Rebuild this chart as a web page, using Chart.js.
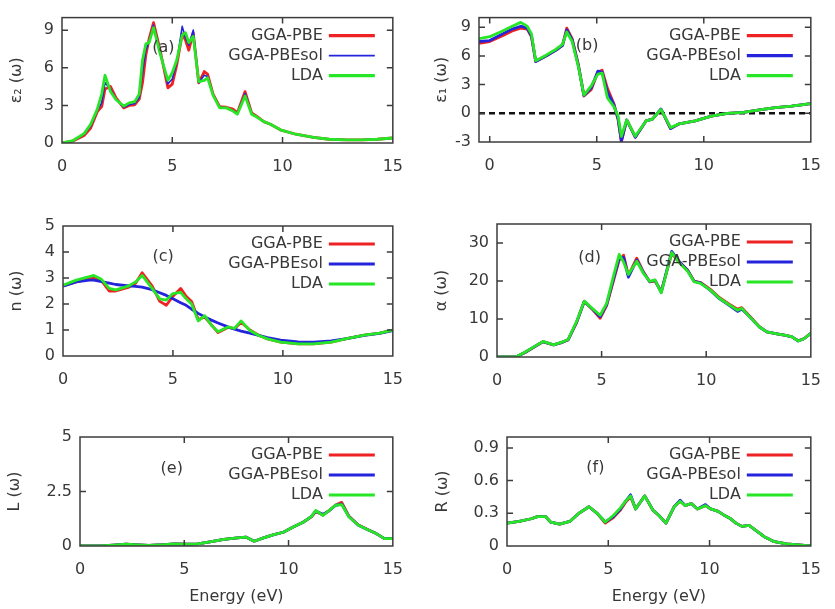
<!DOCTYPE html>
<html>
<head>
<meta charset="utf-8">
<title>Optical properties</title>
<script src="https://cdn.jsdelivr.net/npm/chart.js@4.4.1/dist/chart.umd.min.js"></script>
<style>
  html, body { margin: 0; padding: 0; background: #fff; }
  #wrap { position: relative; width: 835px; height: 609px; overflow: hidden; }
  #wrap canvas { position: absolute; }
</style>
</head>
<body>
<div id="wrap">
  <canvas id="pa" width="417" height="200" style="left:0;top:0"></canvas>
  <canvas id="pb" width="418" height="200" style="left:417px;top:0"></canvas>
  <canvas id="pc" width="417" height="205" style="left:0;top:200px"></canvas>
  <canvas id="pd" width="418" height="205" style="left:417px;top:200px"></canvas>
  <canvas id="pe" width="417" height="204" style="left:0;top:405px"></canvas>
  <canvas id="pf" width="418" height="204" style="left:417px;top:405px"></canvas>
</div>
<script>
// Functionals compared in every panel
const seriesNames = ['GGA-PBE', 'GGA-PBEsol', 'LDA'];

// (a) imaginary part of the dielectric function
const aE      = [0, 0.5, 1.0, 1.3, 1.6, 1.8, 1.95, 2.2, 2.45, 2.8, 3.05, 3.3, 3.5, 3.65, 3.8, 3.95, 4.15, 4.45, 4.8, 5.0, 5.2, 5.45, 5.6, 5.75, 5.95, 6.2, 6.45, 6.6, 6.85, 7.15, 7.45, 7.75, 7.95, 8.3, 8.6, 8.85, 9.15, 9.45, 9.9, 10.6, 11.4, 12.1, 12.9, 13.6, 14.3, 15];
const aPBE    = [0, 0.15, 0.6, 1.2, 2.5, 2.9, 4.3, 4.5, 3.6, 2.8, 3.0, 3.05, 3.5, 4.8, 7.0, 8.3, 9.6, 7.4, 4.4, 4.7, 6.2, 8.7, 8.2, 7.4, 8.8, 4.8, 5.7, 5.5, 3.9, 2.9, 2.85, 2.7, 2.4, 4.1, 2.4, 2.1, 1.7, 1.5, 1.05, 0.7, 0.45, 0.3, 0.25, 0.25, 0.3, 0.4];
const aPBEsol = [0, 0.18, 0.7, 1.35, 2.6, 3.2, 4.8, 4.3, 3.5, 2.85, 3.05, 3.15, 3.6, 5.6, 7.4, 8.1, 9.4, 7.3, 4.7, 5.1, 6.4, 9.3, 8.4, 7.8, 9.0, 4.8, 5.4, 5.3, 3.85, 2.85, 2.8, 2.6, 2.35, 3.95, 2.35, 2.05, 1.7, 1.5, 1.05, 0.7, 0.45, 0.3, 0.25, 0.25, 0.3, 0.4];
const aLDA    = [0, 0.2, 0.75, 1.5, 2.7, 3.9, 5.4, 4.1, 3.45, 2.95, 3.2, 3.3, 3.9, 6.6, 7.9, 8.0, 9.2, 7.1, 5.0, 5.6, 6.6, 8.6, 8.8, 8.0, 8.5, 4.9, 5.0, 5.2, 3.8, 2.8, 2.8, 2.55, 2.3, 3.75, 2.3, 2.05, 1.7, 1.5, 1.05, 0.7, 0.45, 0.3, 0.25, 0.25, 0.3, 0.4];

// (b) real part of the dielectric function
const bE      = [-0.5, 0, 0.6, 1.05, 1.45, 1.75, 1.95, 2.15, 2.65, 3.1, 3.4, 3.6, 3.85, 4.15, 4.4, 4.75, 5.05, 5.25, 5.5, 5.8, 6.0, 6.15, 6.4, 6.8, 7.3, 7.6, 8.0, 8.45, 8.85, 9.6, 10.35, 11.1, 11.85, 12.6, 13.35, 14.1, 15];
const bPBE    = [7.3, 7.5, 8.1, 8.6, 8.9, 8.8, 8.0, 5.4, 6.0, 6.6, 7.1, 8.9, 7.8, 5.0, 1.8, 2.5, 4.3, 4.5, 2.6, 1.0, -0.7, -3.0, -0.7, -2.5, -0.8, -0.6, 0.4, -1.6, -1.1, -0.8, -0.3, 0.0, 0.1, 0.35, 0.6, 0.75, 1.0];
const bPBEsol = [7.5, 7.6, 8.3, 8.8, 9.1, 8.9, 8.1, 5.4, 6.0, 6.6, 7.1, 8.7, 7.7, 4.9, 1.85, 2.7, 4.4, 4.3, 2.2, 0.9, -0.6, -2.9, -0.7, -2.5, -0.8, -0.6, 0.45, -1.6, -1.1, -0.8, -0.3, 0.0, 0.1, 0.35, 0.6, 0.75, 1.0];
const bLDA    = [7.8, 8.0, 8.6, 9.1, 9.5, 9.1, 8.3, 5.5, 6.1, 6.7, 7.2, 8.5, 7.5, 4.8, 1.9, 2.9, 4.1, 4.2, 1.6, 0.7, -0.3, -2.4, -0.7, -2.4, -0.8, -0.6, 0.4, -1.5, -1.1, -0.8, -0.3, 0.0, 0.1, 0.35, 0.6, 0.75, 1.0];
const bZeroE  = [-0.5, 15];
const bZero   = [0, 0];

// (c) refractive index
const cE      = [0, 0.6, 1.2, 1.4, 1.75, 2.1, 2.4, 3.0, 3.3, 3.6, 4.05, 4.4, 4.7, 5.0, 5.35, 5.6, 5.85, 6.15, 6.45, 6.75, 7.05, 7.5, 7.8, 8.1, 8.5, 8.9, 9.3, 9.9, 10.7, 11.4, 12.2, 12.9, 13.7, 14.4, 15];
const cPBE    = [2.7, 2.85, 2.98, 3.0, 2.9, 2.5, 2.5, 2.65, 2.8, 3.2, 2.7, 2.1, 1.95, 2.3, 2.6, 2.3, 2.1, 1.4, 1.5, 1.2, 0.9, 1.1, 1.05, 1.3, 1.0, 0.8, 0.66, 0.53, 0.47, 0.47, 0.53, 0.67, 0.8, 0.88, 1.0];
const cPBEsol = [2.69, 2.85, 2.92, 2.92, 2.86, 2.8, 2.75, 2.7, 2.68, 2.65, 2.55, 2.43, 2.33, 2.2, 2.05, 1.95, 1.8, 1.64, 1.5, 1.38, 1.27, 1.12, 1.03, 0.96, 0.88, 0.79, 0.71, 0.61, 0.54, 0.53, 0.58, 0.67, 0.79, 0.87, 0.98];
const cLDA    = [2.72, 2.92, 3.05, 3.1, 2.95, 2.6, 2.54, 2.7, 2.85, 3.1, 2.6, 2.2, 2.15, 2.4, 2.45, 2.2, 2.0, 1.35, 1.55, 1.18, 0.93, 1.12, 1.06, 1.35, 0.98, 0.79, 0.66, 0.53, 0.47, 0.47, 0.53, 0.67, 0.8, 0.88, 1.0];

// (d) absorption coefficient
const dE      = [0, 0.9, 1.35, 1.8, 2.2, 2.7, 3.1, 3.4, 3.8, 4.17, 4.55, 4.93, 5.24, 5.54, 5.84, 6.05, 6.28, 6.68, 6.99, 7.3, 7.55, 7.85, 8.35, 8.66, 9.12, 9.42, 9.73, 10.2, 10.64, 11.1, 11.5, 11.7, 12.16, 12.54, 12.9, 13.38, 13.8, 14.1, 14.4, 14.67, 15];
const dPBE    = [0, 0, 1.2, 2.7, 4.0, 3.2, 3.8, 4.5, 9.0, 14.6, 12.6, 10.2, 13.5, 19.5, 25.5, 26.8, 21.5, 26.0, 22.5, 19.8, 20.0, 17.3, 27.2, 25.3, 22.8, 20.0, 19.6, 17.8, 15.6, 13.9, 12.6, 13.0, 10.3, 8.0, 6.6, 6.1, 5.7, 5.3, 4.3, 4.8, 6.2];
const dPBEsol = [0, 0, 1.25, 2.75, 4.05, 3.2, 3.85, 4.55, 9.1, 14.6, 12.7, 10.6, 13.8, 20.0, 26.0, 26.2, 21.0, 25.5, 22.3, 19.8, 20.2, 17.0, 27.8, 25.4, 22.7, 19.9, 19.5, 17.5, 15.3, 13.6, 12.0, 12.6, 10.1, 7.9, 6.6, 6.1, 5.7, 5.3, 4.2, 4.8, 6.2];
const dLDA    = [0, 0, 1.3, 2.8, 4.1, 3.2, 3.9, 4.6, 9.3, 14.7, 12.8, 11.0, 14.1, 20.7, 27.0, 25.0, 21.7, 25.2, 22.1, 19.9, 20.3, 16.9, 27.5, 25.1, 22.5, 19.8, 19.4, 17.6, 15.4, 13.7, 12.3, 12.8, 10.1, 7.9, 6.6, 6.1, 5.7, 5.3, 4.2, 4.8, 6.2];

// (e) energy loss function
const eE      = [0, 0.95, 1.6, 2.2, 2.8, 3.3, 4.0, 4.55, 5.1, 5.65, 6.3, 6.9, 7.55, 7.95, 8.35, 8.8, 9.3, 9.75, 10.2, 10.7, 11.1, 11.3, 11.65, 11.95, 12.25, 12.55, 12.9, 13.35, 13.85, 14.15, 14.6, 15];
const ePBE    = [0, 0.01, 0.04, 0.08, 0.05, 0.03, 0.06, 0.1, 0.08, 0.1, 0.2, 0.3, 0.37, 0.41, 0.22, 0.37, 0.52, 0.63, 0.86, 1.09, 1.34, 1.58, 1.42, 1.63, 1.88, 2.0, 1.36, 0.96, 0.73, 0.6, 0.34, 0.34];
const ePBEsol = [0, 0.01, 0.04, 0.08, 0.05, 0.03, 0.06, 0.1, 0.08, 0.1, 0.2, 0.3, 0.37, 0.41, 0.22, 0.37, 0.52, 0.63, 0.86, 1.09, 1.36, 1.6, 1.45, 1.62, 1.86, 1.92, 1.34, 0.95, 0.72, 0.6, 0.34, 0.34];
const eLDA    = [0, 0.01, 0.04, 0.08, 0.05, 0.03, 0.06, 0.1, 0.08, 0.1, 0.2, 0.3, 0.37, 0.41, 0.22, 0.37, 0.52, 0.63, 0.86, 1.09, 1.36, 1.63, 1.4, 1.63, 1.87, 1.9, 1.33, 0.95, 0.72, 0.6, 0.34, 0.34];

// (f) reflectivity
const fE      = [0, 0.6, 1.2, 1.5, 1.9, 2.15, 2.6, 3.1, 3.55, 4.05, 4.45, 4.85, 5.25, 5.6, 5.85, 6.1, 6.35, 6.8, 7.2, 7.5, 7.85, 8.25, 8.55, 8.8, 9.1, 9.4, 9.8, 10.05, 10.4, 10.7, 11.0, 11.3, 11.6, 11.95, 12.25, 12.7, 13.2, 13.8, 14.4, 15];
const fPBE    = [0.21, 0.225, 0.25, 0.27, 0.27, 0.22, 0.2, 0.225, 0.3, 0.36, 0.3, 0.21, 0.26, 0.33, 0.4, 0.45, 0.34, 0.46, 0.33, 0.28, 0.21, 0.36, 0.41, 0.37, 0.39, 0.34, 0.37, 0.34, 0.32, 0.285, 0.255, 0.21, 0.18, 0.19, 0.148, 0.085, 0.04, 0.02, 0.01, 0.0];
const fPBEsol = [0.21, 0.225, 0.25, 0.27, 0.27, 0.22, 0.2, 0.225, 0.3, 0.36, 0.3, 0.22, 0.27, 0.34, 0.41, 0.47, 0.34, 0.46, 0.33, 0.28, 0.21, 0.36, 0.42, 0.37, 0.39, 0.34, 0.38, 0.34, 0.32, 0.285, 0.255, 0.21, 0.18, 0.19, 0.148, 0.085, 0.04, 0.02, 0.01, 0.0];
const fLDA    = [0.21, 0.225, 0.25, 0.27, 0.27, 0.22, 0.2, 0.225, 0.3, 0.36, 0.3, 0.22, 0.28, 0.35, 0.41, 0.46, 0.34, 0.46, 0.33, 0.28, 0.21, 0.36, 0.41, 0.37, 0.39, 0.34, 0.37, 0.34, 0.32, 0.285, 0.255, 0.21, 0.18, 0.19, 0.148, 0.085, 0.04, 0.02, 0.01, 0.0];

// Styling
const FONT = 'DejaVu Sans';
const TEXT = '#383838';
const FRAME = '#3c3c3c';
const lineColors = ['#ee2222', '#2424dc', '#26e626'];

Chart.defaults.font.family = FONT;
Chart.defaults.font.size = 16;
Chart.defaults.color = TEXT;

// Per-panel layout: canvas box and the plot frame inside it
const panels = [
  { id: 'pa', E: aE, ys: [aPBE, aPBEsol, aLDA], yTitle: 'ε₂ (ω)', xMin: 0, xMax: 15, yMin: 0, yMax: 10, yStep: 3,
    tag: '(a)', tagAt: [4.6, 7.55], pad: { top: 11, right: 20 }, yW: 62, xH: 57, yTitlePad: 7.4, thinBlue: true },
  { id: 'pb', E: bE, ys: [bPBE, bPBEsol, bLDA], yTitle: 'ε₁ (ω)', xMin: -0.5, xMax: 15, yMin: -3, yMax: 10, yStep: 3,
    tag: '(b)', tagAt: [4.55, 7.0], pad: { top: 11, right: 10 }, yW: 62, xH: 58, yTitlePad: 15.4, zero: true },
  { id: 'pc', E: cE, ys: [cPBE, cPBEsol, cLDA], yTitle: 'n (ω)', xMin: 0, xMax: 15, yMin: 0, yMax: 5, yStep: 1,
    tag: '(c)', tagAt: [4.55, 3.8], pad: { top: 26, right: 20 }, yW: 63, xH: 49, yTitlePad: 7.4 },
  { id: 'pd', E: dE, ys: [dPBE, dPBEsol, dLDA], yTitle: 'α (ω)', xMin: 0, xMax: 15, yMin: 0, yMax: 35, yStep: 10,
    tag: '(d)', tagAt: [4.43, 26.1], pad: { top: 24, right: 11 }, yW: 80, xH: 48, yTitlePad: 15.4 },
  { id: 'pe', E: eE, ys: [ePBE, ePBEsol, eLDA], yTitle: 'L (ω)', xMin: 0, xMax: 15, yMin: 0, yMax: 5, yStep: 2.5,
    tag: '(e)', tagAt: [4.4, 3.56], pad: { top: 32, right: 20 }, yW: 80, xH: 63, yTitlePad: 5.4, xTitle: 'Energy (eV)' },
  { id: 'pf', E: fE, ys: [fPBE, fPBEsol, fLDA], yTitle: 'R (ω)', xMin: 0, xMax: 15, yMin: 0, yMax: 1, yStep: 0.3,
    tag: '(f)', tagAt: [4.36, 0.72], pad: { top: 32, right: 11 }, yW: 90, xH: 63, yTitlePad: 16.4, xTitle: 'Energy (eV)' }
];

// Box, inward mirrored ticks, panel tag and key (text left of its line sample)
const framePlugin = {
  id: 'frame',
  afterDatasetsDraw(chart, args, opts) {
    const { ctx, chartArea: a, scales: { x, y } } = chart;
    const p = opts.panel;
    ctx.save();
    ctx.strokeStyle = FRAME;
    ctx.lineWidth = 1.5;
    ctx.strokeRect(a.left, a.top, a.right - a.left, a.bottom - a.top);
    const L = 6;
    ctx.beginPath();
    x.ticks.forEach(t => {
      const px = x.getPixelForValue(t.value);
      if (px <= a.left + 1 || px >= a.right - 1) return;
      ctx.moveTo(px, a.bottom); ctx.lineTo(px, a.bottom - L);
      ctx.moveTo(px, a.top); ctx.lineTo(px, a.top + L);
    });
    y.ticks.forEach(t => {
      const py = y.getPixelForValue(t.value);
      if (py <= a.top + 1 || py >= a.bottom - 1) return;
      ctx.moveTo(a.left, py); ctx.lineTo(a.left + L, py);
      ctx.moveTo(a.right, py); ctx.lineTo(a.right - L, py);
    });
    ctx.stroke();

    ctx.fillStyle = TEXT;
    ctx.font = '16px "' + FONT + '"';
    ctx.textAlign = 'center';
    ctx.textBaseline = 'middle';
    ctx.fillText(p.tag, x.getPixelForValue(p.tagAt[0]), y.getPixelForValue(p.tagAt[1]));

    ctx.textAlign = 'right';
    let row = 0;
    chart.data.datasets.forEach(ds => {
      if (!ds.label) return;
      const yy = a.top + 18 + row * 20;
      const x1 = a.right - 18, x0 = x1 - 46;
      ctx.fillStyle = TEXT;
      ctx.fillText(ds.label, x0 - 6, yy);
      ctx.strokeStyle = ds.borderColor;
      ctx.lineWidth = ds.borderWidth + 0.3;
      ctx.beginPath(); ctx.moveTo(x0, yy); ctx.lineTo(x1, yy); ctx.stroke();
      row++;
    });
    ctx.restore();
  }
};

panels.forEach(p => {
  const datasets = seriesNames.map((name, i) => ({
    label: name,
    data: p.E.map((e, k) => ({ x: e, y: p.ys[i][k] })),
    borderColor: lineColors[i],
    borderWidth: (i === 1 && p.thinBlue) ? 1.6 : 2.8,
    pointRadius: 0,
    tension: 0,
    borderJoinStyle: 'round',
    order: 3 - i
  }));
  if (p.zero) {
    datasets.push({
      label: '',
      data: bZeroE.map((e, k) => ({ x: e, y: bZero[k] })),
      borderColor: '#111111',
      borderWidth: 2.5,
      borderDash: [6, 4],
      pointRadius: 0,
      order: 5
    });
  }
  new Chart(document.getElementById(p.id), {
    type: 'line',
    data: { datasets },
    plugins: [framePlugin],
    options: {
      responsive: false,
      animation: false,
      devicePixelRatio: 1,
      layout: { padding: { top: p.pad.top, right: p.pad.right, left: 0, bottom: 0 } },
      plugins: {
        legend: { display: false },
        tooltip: { enabled: false },
        frame: { panel: p }
      },
      scales: {
        x: {
          type: 'linear',
          min: p.xMin, max: p.xMax,
          grid: { display: false, drawTicks: false },
          border: { display: false },
          ticks: { stepSize: 5, includeBounds: false, maxRotation: 0, autoSkip: false, padding: 14, color: TEXT },
          title: p.xTitle ? { display: true, text: p.xTitle, color: TEXT, padding: { top: 0, bottom: 2.4 } } : { display: false },
          afterFit: s => { s.height = p.xH; }
        },
        y: {
          type: 'linear',
          min: p.yMin, max: p.yMax,
          grid: { display: false, drawTicks: false },
          border: { display: false },
          ticks: { stepSize: p.yStep, includeBounds: false, padding: 8, color: TEXT },
          title: { display: true, text: p.yTitle, color: TEXT, padding: { top: p.yTitlePad, bottom: 0 } },
          afterFit: s => { s.width = p.yW; }
        }
      }
    }
  });
});
</script>
</body>
</html>
